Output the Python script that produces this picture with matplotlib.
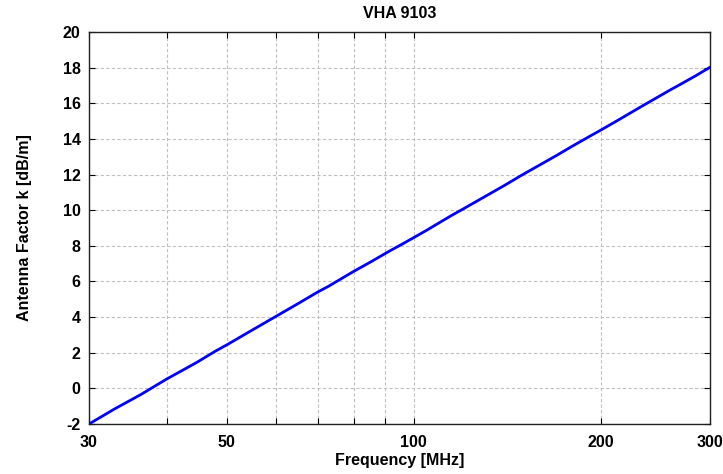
import matplotlib
matplotlib.use("Agg")
import matplotlib.pyplot as plt
from matplotlib.ticker import FixedLocator, FixedFormatter, NullLocator

plt.rcParams['font.family'] = ['Liberation Sans', 'DejaVu Sans']
plt.rcParams['axes.unicode_minus'] = False

freq_mhz = [30, 33, 36.3, 40, 44.7, 48, 50, 54.5, 60, 65, 70, 73, 80, 85, 90, 92, 96,
            100, 105, 110, 115, 120, 130, 140, 150, 160, 170, 180, 193, 200, 215, 230,
            245, 258, 270, 285, 300]
antenna_factor = [-2.00, -1.15, -0.36, 0.52, 1.45, 2.10, 2.44, 3.20, 4.04, 4.74, 5.40, 5.74,
                  6.56, 7.07, 7.57, 7.76, 8.11, 8.46, 8.88, 9.30, 9.70, 10.06, 10.75, 11.39,
                  12.01, 12.56, 13.08, 13.59, 14.19, 14.49, 15.12, 15.72, 16.27, 16.72,
                  17.10, 17.56, 18.02]

x_ticks = [30, 40, 50, 60, 70, 80, 90, 100, 200, 300]
x_tick_labels = ['30', '', '50', '', '', '', '', '100', '200', '300']
y_ticks = [-2, 0, 2, 4, 6, 8, 10, 12, 14, 16, 18, 20]

fig = plt.figure(figsize=(7.23, 4.74), dpi=100)
ax = fig.add_axes([89/723, 1-424/474, (710-89)/723, (424-32)/474])

ax.plot(freq_mhz, antenna_factor, color='#0000ff', lw=2.0, zorder=3)
ax.set_xscale('log')
ax.set_xlim(30, 300)
ax.set_ylim(-2, 20)

ax.xaxis.set_major_locator(FixedLocator(x_ticks))
ax.xaxis.set_major_formatter(FixedFormatter(x_tick_labels))
ax.xaxis.set_minor_locator(NullLocator())
ax.set_yticks(y_ticks)

ax.grid(True, which='major', color='#c0c0c0', linestyle=(0, (3, 2)), linewidth=0.8)
ax.tick_params(axis='both', direction='in', length=4, width=0.8, top=True, right=True,
               labelsize=11.5)
for lab in ax.get_xticklabels() + ax.get_yticklabels():
    lab.set_fontweight('bold')
ax.tick_params(axis='x', pad=8)
ax.tick_params(axis='y', pad=6)

for s in ax.spines.values():
    s.set_linewidth(1.0)
    s.set_color('#202020')

ax.set_title('VHA 9103', fontsize=11.5, fontweight='bold', pad=10)
ax.set_xlabel('Frequency [MHz]', fontsize=11.5, fontweight='bold', labelpad=2)
ax.set_ylabel('Antenna Factor k [dB/m]', fontsize=11.5, fontweight='bold', labelpad=22)

fig.savefig('out.png', dpi=100)
